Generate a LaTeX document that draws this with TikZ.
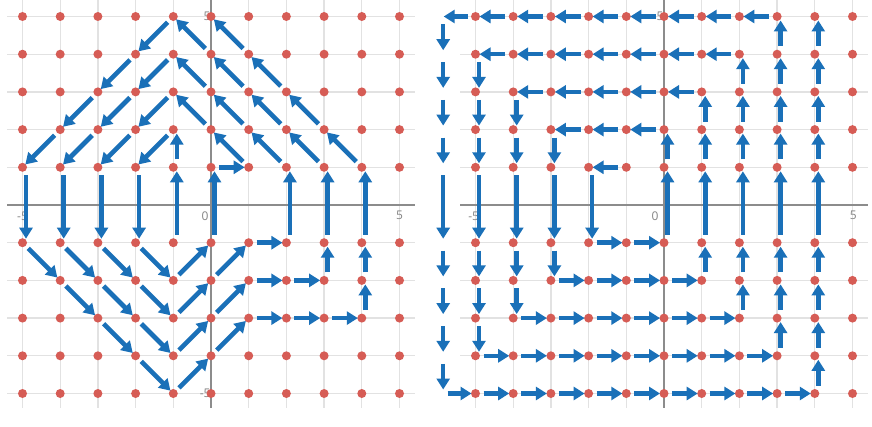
\documentclass[tikz,border=0pt]{standalone}
\usepackage{fontspec}
\setmainfont{Open Sans}
\usetikzlibrary{arrows.meta}
\definecolor{dotred}{HTML}{D65C55}
\definecolor{arrblue}{HTML}{1A70B8}
\definecolor{gridgray}{HTML}{E2E2E2}
\definecolor{axisgray}{HTML}{8C8C8C}
\definecolor{labgray}{HTML}{858585}
\tikzset{
  reddot/.style={circle,fill=dotred,draw=none,inner sep=0pt,minimum size=9pt},
  ghost/.style={circle,draw=none,inner sep=0pt,minimum size=9pt},
  arr/.style={draw=arrblue,line width=4.6pt,-{Triangle[length=11pt,width=13pt]},shorten <=8pt,shorten >=4pt},
  gridline/.style={draw=gridgray,line width=1.3pt},
  axisline/.style={draw=axisgray,line width=1.8pt},
  lab/.style={text=labgray,font=\fontsize{12}{14}\selectfont,inner sep=1pt},
  panel/.style={x=37.7pt,y=37.7pt}
}
\newcommand\arw[2]{\draw[arr] (#1.center) -- (#2.center);}
\newcommand\varw[2]{\draw[arr] ([xshift=3.5pt]#1.center) -- ([xshift=3.5pt]#2.center);}

\begin{document}
\begin{tikzpicture}[x=1pt,y=1pt]
\useasboundingbox (0,0) rectangle (872,426);
\fill[white] (0,0) rectangle (872,426);

% ================= LEFT PANEL =================
\begin{scope}[shift={(211pt,221pt)},panel]
  \foreach \i in {-5,...,5}{
    \draw[gridline] (\i,-5.38) -- (\i,5.45);
    \draw[gridline] (-5.4,\i) -- (5.4,\i);
  }
  \draw[axisline] (-5.4,0) -- (5.4,0);
  \draw[axisline] (0,-5.38) -- (0,5.45);
  \node[lab] (Lxm) at (-5,-0.3) {-5};
  \node[lab] (Lxo) at (-0.16,-0.3) {0};
  \node[lab] (Lxp) at (5,-0.26) {5};
  \node[lab,anchor=east] (Lyp) at (0.02,5) {5};
  \node[lab,anchor=east] (Lym) at (0.02,-5) {-5};
  \foreach \x in {-5,...,5}{
    \foreach \y in {-5,-4,-3,-2,-1,1,2,3,4,5}{
      \node[reddot] (L\x_\y) at (\x,\y) {};
    }
  }
  % diagonal and horizontal arrows
  \foreach \a/\b in {
    L-1_5/L-2_4, L-2_4/L-3_3, L-3_3/L-4_2, L-4_2/L-5_1,
    L-1_4/L-2_3, L-2_3/L-3_2, L-3_2/L-4_1,
    L-1_3/L-2_2, L-2_2/L-3_1,
    L-1_2/L-2_1,
    L4_1/L3_2, L3_2/L2_3, L2_3/L1_4, L1_4/L0_5,
    L3_1/L2_2, L2_2/L1_3, L1_3/L0_4, L0_4/L-1_5,
    L2_1/L1_2, L1_2/L0_3, L0_3/L-1_4,
    L1_1/L0_2, L0_2/L-1_3,
    L0_1/L1_1,
    L-5_-1/L-4_-2, L-4_-2/L-3_-3, L-3_-3/L-2_-4, L-2_-4/L-1_-5,
    L-4_-1/L-3_-2, L-3_-2/L-2_-3, L-2_-3/L-1_-4,
    L-3_-1/L-2_-2, L-2_-2/L-1_-3,
    L-2_-1/L-1_-2,
    L-1_-2/L0_-1, L-1_-3/L0_-2, L-1_-4/L0_-3, L-1_-5/L0_-4,
    L0_-2/L1_-1, L0_-3/L1_-2, L0_-4/L1_-3,
    L1_-1/L2_-1, L1_-2/L2_-2, L2_-2/L3_-2,
    L1_-3/L2_-3, L2_-3/L3_-3, L3_-3/L4_-3}{\arw{\a}{\b}}
  % vertical arrows
  \foreach \a/\b in {
    L-5_1/L-5_-1, L-4_1/L-4_-1, L-3_1/L-3_-1, L-2_1/L-2_-1,
    L-1_-1/L-1_1, L-1_1/L-1_2, L0_-1/L0_1, L2_-1/L2_1, L3_-1/L3_1, L4_-1/L4_1,
    L3_-2/L3_-1, L4_-3/L4_-2, L4_-2/L4_-1}{\varw{\a}{\b}}
\end{scope}

% ================= RIGHT PANEL =================
\begin{scope}[shift={(664pt,221pt)},panel]
  \foreach \i in {-5,...,5}{
    \draw[gridline] (\i,-5.38) -- (\i,5.45);
    \draw[gridline] (-5.4,\i) -- (5.4,\i);
  }
  \draw[axisline] (-5.4,0) -- (5.4,0);
  \draw[axisline] (0,-5.38) -- (0,5.45);
  \node[lab] (Rxm) at (-5.05,-0.3) {-5};
  \node[lab] (Rxo) at (-0.24,-0.3) {0};
  \node[lab] (Rxp) at (5.02,-0.26) {5};
  \node[lab,anchor=east] (Ryp) at (0.02,5) {5};
  \foreach \x in {-5,...,5}{
    \foreach \y in {-5,-4,-3,-2,-1,1,2,3,4,5}{
      \node[reddot] (R\x_\y) at (\x,\y) {};
    }
  }
  \foreach \y in {-5,-4,-3,-2,-1,1,2,3,4,5}{
    \node[ghost] (R-6_\y) at (-5.95,\y) {};
  }
  % horizontal arrows
  \foreach \a/\b in {
    R-1_1/R-2_1,
    R-2_-1/R-1_-1, R-1_-1/R0_-1,
    R0_2/R-1_2, R-1_2/R-2_2, R-2_2/R-3_2,
    R-3_-2/R-2_-2, R-2_-2/R-1_-2, R-1_-2/R0_-2, R0_-2/R1_-2,
    R1_3/R0_3, R0_3/R-1_3, R-1_3/R-2_3, R-2_3/R-3_3, R-3_3/R-4_3,
    R-4_-3/R-3_-3, R-3_-3/R-2_-3, R-2_-3/R-1_-3, R-1_-3/R0_-3, R0_-3/R1_-3, R1_-3/R2_-3,
    R2_4/R1_4, R1_4/R0_4, R0_4/R-1_4, R-1_4/R-2_4, R-2_4/R-3_4, R-3_4/R-4_4, R-4_4/R-5_4,
    R-5_-4/R-4_-4, R-4_-4/R-3_-4, R-3_-4/R-2_-4, R-2_-4/R-1_-4, R-1_-4/R0_-4, R0_-4/R1_-4, R1_-4/R2_-4, R2_-4/R3_-4,
    R3_5/R2_5, R2_5/R1_5, R1_5/R0_5, R0_5/R-1_5, R-1_5/R-2_5, R-2_5/R-3_5, R-3_5/R-4_5, R-4_5/R-5_5, R-5_5/R-6_5,
    R-6_-5/R-5_-5, R-5_-5/R-4_-5, R-4_-5/R-3_-5, R-3_-5/R-2_-5, R-2_-5/R-1_-5, R-1_-5/R0_-5, R0_-5/R1_-5, R1_-5/R2_-5, R2_-5/R3_-5, R3_-5/R4_-5}{\arw{\a}{\b}}
  % vertical arrows
  \foreach \a/\b in {
    R-2_1/R-2_-1,
    R0_-1/R0_1, R0_1/R0_2,
    R-3_2/R-3_1, R-3_1/R-3_-1, R-3_-1/R-3_-2,
    R1_-2/R1_-1, R1_-1/R1_1, R1_1/R1_2, R1_2/R1_3,
    R-4_3/R-4_2, R-4_2/R-4_1, R-4_1/R-4_-1, R-4_-1/R-4_-2, R-4_-2/R-4_-3,
    R2_-3/R2_-2, R2_-2/R2_-1, R2_-1/R2_1, R2_1/R2_2, R2_2/R2_3, R2_3/R2_4,
    R-5_4/R-5_3, R-5_3/R-5_2, R-5_2/R-5_1, R-5_1/R-5_-1, R-5_-1/R-5_-2, R-5_-2/R-5_-3, R-5_-3/R-5_-4,
    R3_-4/R3_-3, R3_-3/R3_-2, R3_-2/R3_-1, R3_-1/R3_1, R3_1/R3_2, R3_2/R3_3, R3_3/R3_4, R3_4/R3_5,
    R-6_5/R-6_4, R-6_4/R-6_3, R-6_3/R-6_2, R-6_2/R-6_1, R-6_1/R-6_-1, R-6_-1/R-6_-2, R-6_-2/R-6_-3, R-6_-3/R-6_-4, R-6_-4/R-6_-5,
    R4_-5/R4_-4, R4_-4/R4_-3, R4_-3/R4_-2, R4_-2/R4_-1, R4_-1/R4_1, R4_1/R4_2, R4_2/R4_3, R4_3/R4_4, R4_4/R4_5}{\varw{\a}{\b}}
\end{scope}
\end{tikzpicture}
\end{document}
